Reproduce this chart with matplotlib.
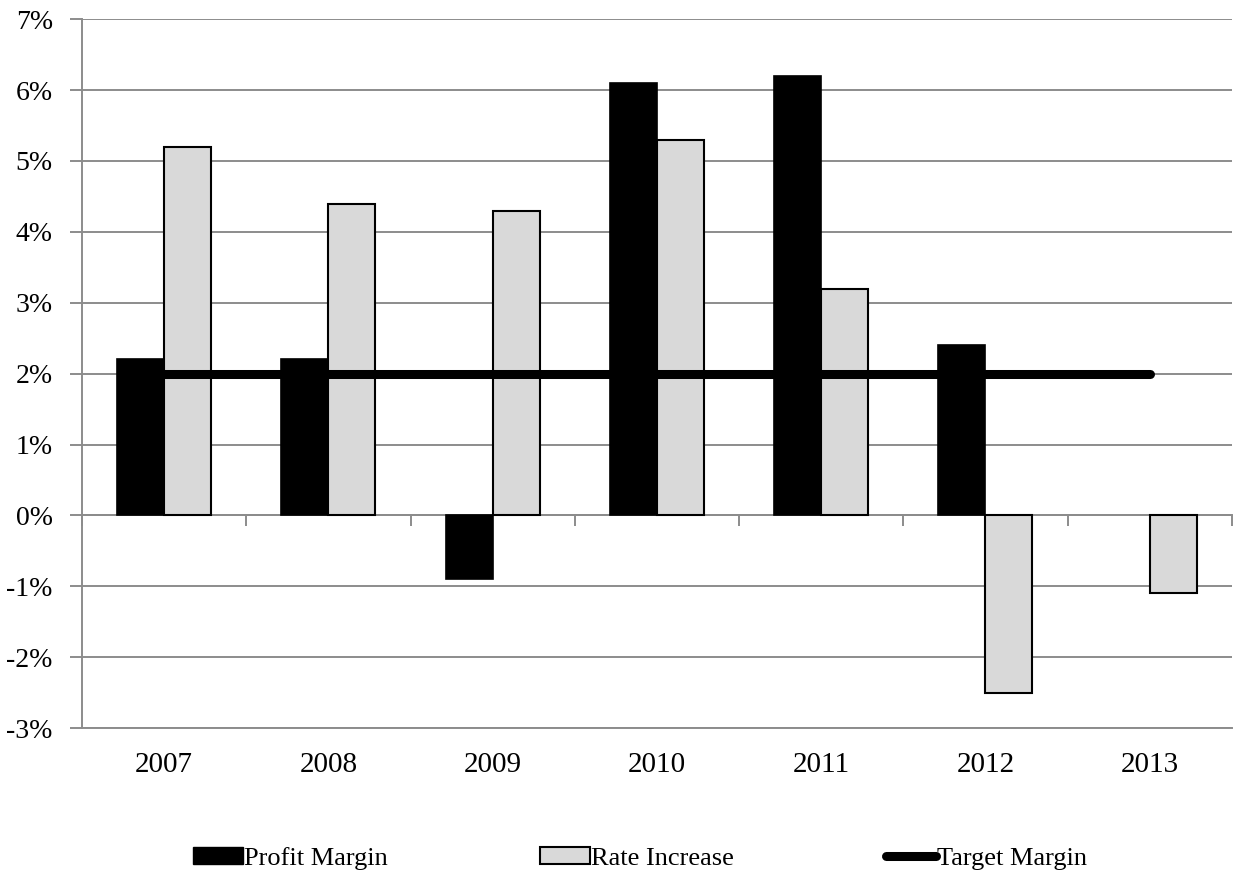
import matplotlib.pyplot as plt
import numpy as np
from matplotlib.patches import Patch
from matplotlib.lines import Line2D

plt.rcParams['font.family'] = ['Liberation Serif', 'DejaVu Serif']

years = ["2007", "2008", "2009", "2010", "2011", "2012", "2013"]
profit_margin = [2.2, 2.2, -0.9, 6.1, 6.2, 2.4, np.nan]
rate_increase = [5.2, 4.4, 4.3, 5.3, 3.2, -2.5, -1.1]
target_margin = [2, 2, 2, 2, 2, 2, 2]
y_ticks = [-3, -2, -1, 0, 1, 2, 3, 4, 5, 6, 7]

grid_col = "#8c8c8c"
bw = 0.286
x = np.arange(len(years))

fig = plt.figure(figsize=(12.33, 8.72), dpi=100)
ax = fig.add_axes([0.0665, 0.165, 0.9325, 0.813])

ax.set_axisbelow(True)
ax.grid(axis="y", color=grid_col, linewidth=1.4)
ax.bar(x - bw / 2, profit_margin, bw, color="black", edgecolor="black", linewidth=1.2, zorder=2)
ax.bar(x + bw / 2, rate_increase, bw, color="#d9d9d9", edgecolor="black", linewidth=1.5, zorder=2)
ax.plot(x, target_margin, color="black", linewidth=6.5, solid_capstyle="round", zorder=3)

ax.set_xlim(-0.5, len(years) - 0.5)
ax.set_ylim(-3, 7)
ax.set_yticks(y_ticks)
ax.set_yticklabels([f"{v}%" for v in y_ticks], fontsize=20)
ax.tick_params(axis="y", length=9, width=1.4, color=grid_col, pad=12)

ax.set_xticks(x)
ax.set_xticklabels(years, fontsize=21)
ax.tick_params(axis="x", length=0, pad=17)

for side in ["top", "right"]:
    ax.spines[side].set_visible(False)
for side in ["left", "bottom"]:
    ax.spines[side].set_color(grid_col)
    ax.spines[side].set_linewidth(1.4)

# category separators hanging off the zero line
zero_axis = ax.secondary_xaxis(0, transform=ax.transData)
zero_axis.set_xticks(np.arange(len(years) + 1) - 0.5)
zero_axis.set_xticklabels([])
zero_axis.tick_params(length=8, width=1.4, color=grid_col, direction="out")
zero_axis.spines["bottom"].set_color(grid_col)
zero_axis.spines["bottom"].set_linewidth(1.4)

handles = [
    Patch(facecolor="black", edgecolor="black", label="Profit Margin"),
    Patch(facecolor="#d9d9d9", edgecolor="black", linewidth=1.5, label="Rate Increase"),
    Line2D([0], [0], color="black", linewidth=6.5, solid_capstyle="round", label="Target Margin"),
]
fig.legend(handles=handles, loc="center", bbox_to_anchor=(0.519, 0.016), ncol=3,
           frameon=False, fontsize=19, handlelength=1.9, handletextpad=0.05,
           columnspacing=5.75, handleheight=0.6)

fig.savefig("out.png", dpi=100)
